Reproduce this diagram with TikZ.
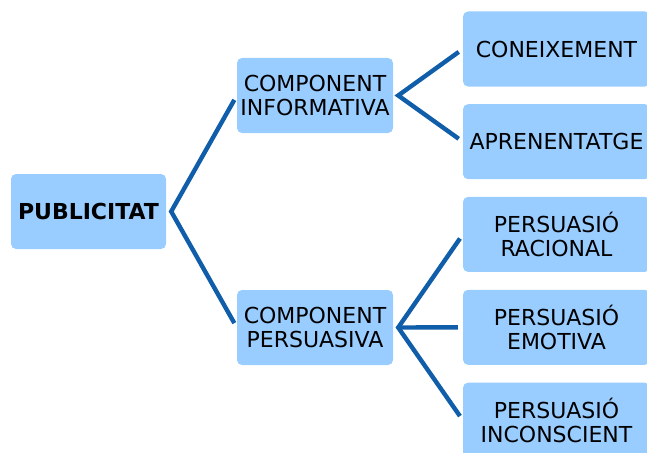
\documentclass[tikz,border=0pt]{standalone}
\usepackage{fontspec}
\setmainfont{DejaVu Sans}
\definecolor{boxfill}{RGB}{153,204,255}
\definecolor{linkblue}{RGB}{16,94,170}
\begin{document}
\begin{tikzpicture}[x=1pt,y=-1pt,
  box/.style={fill=boxfill, rounded corners=5pt, align=center, inner sep=0pt,
    minimum height=75pt, font=\fontsize{22}{23.5}\selectfont},
  link/.style={draw=linkblue, line width=4.4pt, line cap=butt, line join=miter, shorten >=5pt, shorten <=5pt}]
\useasboundingbox (0,0) rectangle (647,452);
\begin{scope}
\clip (0,0) rectangle (647,452);
\node[box, minimum width=155pt, font=\fontsize{22}{23.5}\selectfont\bfseries] (pub) at (88.5,211.5) {PUBLICITAT};
\node[box, minimum width=156pt] (ci) at (315,95.5) {COMPONENT\\INFORMATIVA};
\node[box, minimum width=156pt] (cp) at (315,327.5) {COMPONENT\\PERSUASIVA};
\node[box, minimum width=187pt] (co) at (556.5,49) {CONEIXEMENT};
\node[box, minimum width=187pt] (ap) at (556.5,141.7) {APRENENTATGE};
\node[box, minimum width=187pt] (pr) at (556.5,234.4) {PERSUASIÓ\\RACIONAL};
\node[box, minimum width=187pt] (pe) at (556.5,327.3) {PERSUASIÓ\\EMOTIVA};
\node[box, minimum width=187pt] (pi) at (556.5,420.2) {PERSUASIÓ\\INCONSCIENT};
\coordinate (v0) at ([xshift=5pt]pub.east);
\coordinate (v1) at ([xshift=5pt]ci.east);
\coordinate (v2) at ([xshift=5pt]cp.east);
\draw[link] (ci.west) -- (v0) -- (cp.west);
\draw[link] (co.west) -- (v1) -- (ap.west);
\draw[link] (pr.west) -- (v2) -- (pi.west);
\draw[link, shorten <=0pt] (v2) -- (pe.west);
\end{scope}
\end{tikzpicture}
\end{document}
